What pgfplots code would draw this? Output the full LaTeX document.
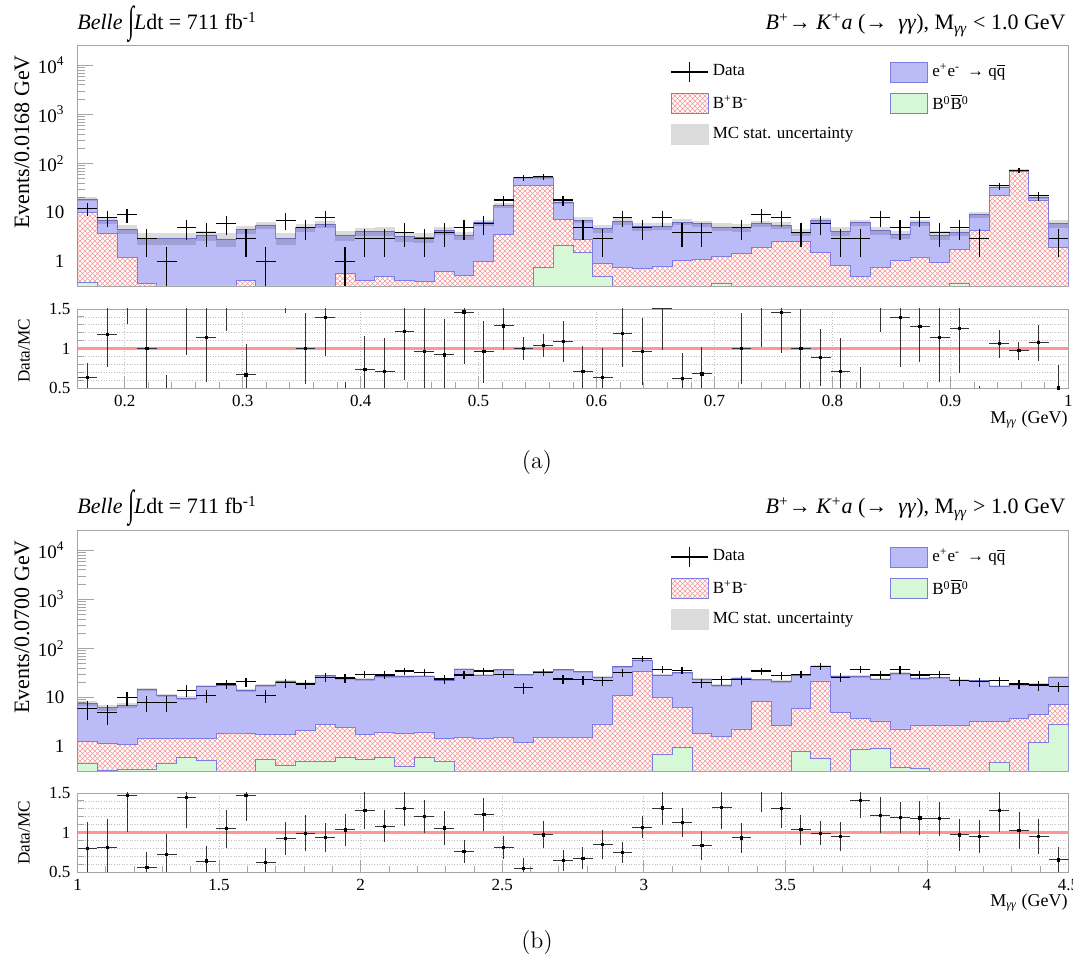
\documentclass[border=0pt]{standalone}
\usepackage{pgfplots}
\pgfplotsset{compat=1.18}
\usepackage{pgfplotstable}
\usetikzlibrary{patterns}
\usepackage{graphicx}
\usepackage{fontspec}
\newfontfamily\tms{Liberation Serif}

\definecolor{qqblue}{RGB}{187,187,248}
\definecolor{qqedge}{RGB}{125,125,225}
\definecolor{hatchred}{RGB}{250,150,150}
\definecolor{bzgreen}{RGB}{214,248,214}
\definecolor{framegray}{RGB}{165,165,165}
\definecolor{ratiored}{RGB}{255,150,150}

\pgfdeclarepatternformonly{finecross}{\pgfqpoint{-0.5pt}{-0.5pt}}{\pgfqpoint{3pt}{3pt}}{\pgfqpoint{2.5pt}{2.5pt}}{%
  \pgfsetlinewidth{0.25pt}%
  \pgfpathmoveto{\pgfqpoint{0pt}{0pt}}\pgfpathlineto{\pgfqpoint{2.5pt}{2.5pt}}%
  \pgfpathmoveto{\pgfqpoint{0pt}{2.5pt}}\pgfpathlineto{\pgfqpoint{2.5pt}{0pt}}%
  \pgfusepath{stroke}}

% panel (a): bin left edge, MC total, B+B- (+B0B0) top, B0B0 top, MC stat. error, data
\pgfplotstableread{
x tot red grn err data
0.1600 19 10 0.37 1.5 12
0.1768 6.8 3.75 0.01 0.9 8
0.1936 4.6 1.2 0.01 0.9 9
0.2104 3.0 0.36 0.01 0.8 3
0.2272 3.0 0.01 0.01 0.8 1
0.2440 3.0 0.01 0.01 0.8 5
0.2608 3.5 0.01 0.01 0.8 4
0.2776 2.9 0.01 0.01 0.9 6
0.2944 4.5 0.42 0.01 0.9 3
0.3112 5.6 0.01 0.01 0.9 1
0.3280 3.0 0.01 0.01 0.8 7
0.3448 5.0 0.01 0.01 0.9 5
0.3616 5.75 0.01 0.01 0.9 8
0.3784 3.5 0.58 0.01 0.8 1
0.3952 4.1 0.42 0.01 0.8 3
0.4120 4.2 0.51 0.01 0.8 3
0.4288 3.3 0.41 0.01 0.8 4
0.4456 3.1 0.40 0.01 0.7 3
0.4624 4.35 0.64 0.01 0.8 4
0.4792 3.42 0.52 0.01 0.7 5
0.4960 6.25 1.0 0.01 0.9 6
0.5128 14 3.6 0.01 1.4 18
0.5296 51 35.6 0.01 2.5 51
0.5464 52 35 0.76 2.5 54
0.5632 16.5 7.3 2.1 1.5 18
0.5800 7.0 2.9 1.55 1.0 5
0.5968 4.7 0.92 0.49 0.9 3
0.6136 6.7 0.76 0.01 1.0 8
0.6304 5.2 0.74 0.01 0.9 5
0.6472 5.3 0.82 0.01 0.9 8
0.6640 6.4 1.07 0.01 0.9 4
0.6808 5.9 1.13 0.01 0.9 4
0.6976 5.1 1.3 0.36 0.9 nan
0.7144 5.0 1.5 0.01 0.9 5
0.7312 5.9 1.96 0.01 0.9 9
0.7480 5.5 2.6 0.01 0.8 8
0.7648 4.0 2.6 0.01 0.7 4
0.7816 6.8 1.55 0.01 0.9 6
0.7984 4.2 0.85 0.01 0.8 3
0.8152 6.2 0.49 0.01 0.9 3
0.8320 4.3 0.76 0.01 0.8 8
0.8488 3.6 1.05 0.01 0.7 5
0.8656 6.25 1.2 0.01 0.9 8
0.8824 3.5 0.96 0.01 0.7 4
0.8992 4.0 1.8 0.36 0.7 5
0.9160 9.0 4.3 0.01 1.2 3
0.9328 33 22.8 0.01 2.0 35
0.9496 74 70 0.01 3.0 72
0.9664 20.5 18 0.01 1.5 22
0.9832 6.0 1.96 0.01 1.2 3
1.0000 6.0 1.96 0.01 1.2 nan
}\ta

% panel (b)
\pgfplotstableread{
x tot red grn err data
1.00 7.5 1.3 0.45 0.9 6
1.07 6.2 1.15 0.33 0.8 5
1.14 6.8 1.1 0.34 0.8 10
1.21 14.4 1.45 0.34 1.0 8
1.28 11 1.45 0.45 0.9 8
1.35 9.7 1.5 0.6 0.9 14
1.42 17.2 1.5 0.52 1.1 11
1.49 18.1 1.9 0.01 1.1 19
1.56 14.3 1.9 0.01 1.0 21
1.63 17.7 1.75 0.54 1.1 11
1.70 21.7 1.75 0.42 1.2 20
1.77 19.2 2.1 0.49 1.2 19
1.84 27.7 2.8 0.5 1.4 26
1.91 24.2 2.5 0.6 1.3 25
1.98 23.5 1.75 0.55 1.3 30
2.05 26.9 2.0 0.6 1.4 29
2.12 26.9 1.9 0.39 1.4 35
2.19 27.5 2.0 0.6 1.4 33
2.26 22.7 1.5 0.5 1.3 24
2.33 38.2 1.57 0.01 1.7 29
2.40 28.5 1.45 0.01 1.4 35
2.47 37 1.54 0.01 1.6 30
2.54 29.5 1.22 0.01 1.4 16
2.61 34 1.54 0.01 1.5 33
2.68 37 1.54 0.01 1.6 24
2.75 34 1.54 0.01 1.5 23
2.82 26 2.9 0.01 1.3 22
2.89 43 11 0.01 1.8 32
2.96 58 34.5 0.01 2.2 62
3.03 29 10 0.69 1.4 38
3.10 32 6.3 0.97 1.5 36
3.17 24 1.9 0.01 1.3 20
3.24 17.4 1.6 0.01 1.1 23
3.31 24.7 2.3 0.01 1.3 23
3.38 23 8.2 0.01 1.3 35
3.45 21.5 2.7 0.01 1.2 28
3.52 29 6.0 0.8 1.4 30
3.59 43.5 21.8 0.57 1.8 43
3.66 27.4 5.0 0.01 1.4 26
3.73 27 3.8 0.87 1.4 38
3.80 23.8 3.35 0.91 1.3 29
3.87 31 2.3 0.38 1.5 37
3.94 24.5 2.7 0.36 1.3 29
4.01 25.5 2.7 0.01 1.3 30
4.08 22.7 2.75 0.01 1.3 22
4.15 22 3.25 0.01 1.3 21
4.22 17.2 3.25 0.47 1.1 22
4.29 18.5 3.8 0.01 1.2 19
4.36 19 4.6 1.24 1.2 18
4.43 26 7.3 2.8 1.4 17
4.50 26 7.3 2.8 1.4 nan
}\tb

\newcommand{\stack}[2]{%
  \addplot[const plot, fill=qqblue, draw=qqedge, line width=0.4pt, forget plot] table[x=x, y=tot] {#1} \closedcycle;
  \addplot[const plot, preaction={fill=white}, pattern=finecross, pattern color=hatchred, draw=qqedge, line width=0.4pt, forget plot] table[x=x, y=red] {#1} \closedcycle;
  \addplot[const plot, fill=bzgreen, draw=qqedge, line width=0.4pt, forget plot] table[x=x, y=grn] {#1} \closedcycle;
  \addplot[draw=none, mark=none, forget plot,
    error bars/.cd, y dir=both, y explicit, error mark=none,
    error bar style={draw=black, opacity=0.14, line width=9.91pt}]
    table[x expr=\thisrow{x}+#2, y=tot, y error=err] {#1};
  \addplot[draw=none, mark=none, forget plot,
    error bars/.cd, x dir=both, x fixed=#2, y dir=both, y explicit, error mark=none,
    error bar style={draw=black, line width=0.6pt}]
    table[x expr=\thisrow{x}+#2, y=data,
      y error plus expr={sqrt(\thisrow{data})},
      y error minus expr={min(sqrt(\thisrow{data}),\thisrow{data}-0.02)}] {#1};
}

\newcommand{\legendset}{%
  \addlegendimage{legend image code/.code={\draw[black, line width=0.6pt] (0pt,0pt)--(18.5pt,0pt); \draw[black, line width=0.6pt] (9.25pt,-5pt)--(9.25pt,5pt);}}
  \addlegendentry{Data}
  \addlegendimage{legend image code/.code={\draw[fill=qqblue, draw=qqedge, line width=0.4pt] (0pt,-5pt) rectangle (18.5pt,5pt);}}
  \addlegendentry{e\textsuperscript{+}e\textsuperscript{-} \,→ q\(\overline{\mbox{q}}\)}
  \addlegendimage{legend image code/.code={\draw[preaction={fill=white}, pattern=finecross, pattern color=hatchred, draw=qqedge, line width=0.4pt] (0pt,-5pt) rectangle (18.5pt,5pt);}}
  \addlegendentry{B\textsuperscript{+}B\textsuperscript{-}}
  \addlegendimage{legend image code/.code={\draw[fill=bzgreen, draw=qqedge, line width=0.4pt] (0pt,-5pt) rectangle (18.5pt,5pt);}}
  \addlegendentry{B\textsuperscript{0}\(\overline{\mbox{B}}\)\textsuperscript{0}}
  \addlegendimage{legend image code/.code={\fill[black!14] (0pt,-5pt) rectangle (18.5pt,5pt);}}
  \addlegendentry{MC stat. uncertainty}
}

\newcommand{\ratiopts}[2]{%
  \addplot[only marks, mark=square*, mark size=0.55pt, black, forget plot,
    error bars/.cd, x dir=both, x fixed=#2, y dir=both, y explicit, error mark=none,
    error bar style={draw=black!80, line width=0.45pt}]
    table[x expr=\thisrow{x}+#2, y expr=\thisrow{data}/\thisrow{tot},
      y error expr={sqrt(\thisrow{data})/\thisrow{tot}}] {#1};
}

\begin{document}
\begin{tikzpicture}
\path[use as bounding box] (0pt,0pt) rectangle (536.5pt,480.5pt);

% ---------- (a) main ----------
\begin{axis}[scale only axis, anchor=south west, at={(38.75pt,337.5pt)},
    width=495.5pt, height=120.5pt,
    xmin=0.16, xmax=1.0, xtick={0.2,0.3,0.4,0.5,0.6,0.7,0.8,0.9,1}, xticklabels={}, minor x tick num=4,
    ymode=log, ymin=0.32, ymax=26000, log origin=infty,
    ytick={1,10,100,1000,10000},
    yticklabels={1,10,10\textsuperscript{2},10\textsuperscript{3},10\textsuperscript{4}},
    axis line style={framegray}, tick style={framegray, line width=0.4pt},
    tick pos=left, major tick length=8pt, minor tick length=4pt,
    tick label style={font=\tms\fontsize{9.5}{10}\selectfont},
    yticklabel style={xshift=-3pt},
    legend columns=2, legend cell align=left,
    legend style={draw=none, fill=none, at={(0.592,0.955)}, anchor=north west,
      font=\tms\fontsize{8.5}{10}\selectfont, row sep=3.5pt,
      /tikz/every even column/.append style={column sep=16.5pt}}]
  \legendset
  \stack{\ta}{0.0084}
\end{axis}

% ---------- (a) ratio ----------
\begin{axis}[scale only axis, anchor=south west, at={(38.75pt,286.5pt)},
    width=495.5pt, height=39.5pt,
    xmin=0.16, xmax=1.0, xtick={0.2,0.3,0.4,0.5,0.6,0.7,0.8,0.9,1}, minor x tick num=4,
    ymin=0.5, ymax=1.5, ytick={0.5,1,1.5}, minor y tick num=4,
    axis line style={framegray}, tick style={framegray, line width=0.4pt},
    tick pos=left, major tick length=6pt, minor tick length=3pt,
    xmajorgrids, ymajorgrids, yminorgrids,
    grid style={densely dotted, gray!50, line width=0.3pt},
    minor grid style={densely dotted, gray!50, line width=0.3pt},
    tick label style={font=\tms\fontsize{8.5}{10}\selectfont},
    /pgf/number format/assume math mode=true]
  \addplot[ratiored, line width=1.1pt, forget plot] coordinates {(0.16,1) (1,1)};
  \ratiopts{\ta}{0.0084}
\end{axis}

% ---------- (b) main ----------
\begin{axis}[scale only axis, anchor=south west, at={(38.75pt,95pt)},
    width=495.5pt, height=120.5pt,
    xmin=1.0, xmax=4.5, xtick={1,1.5,2,2.5,3,3.5,4,4.5}, xticklabels={}, minor x tick num=4,
    ymode=log, ymin=0.32, ymax=26000, log origin=infty,
    ytick={1,10,100,1000,10000},
    yticklabels={1,10,10\textsuperscript{2},10\textsuperscript{3},10\textsuperscript{4}},
    axis line style={framegray}, tick style={framegray, line width=0.4pt},
    tick pos=left, major tick length=8pt, minor tick length=4pt,
    tick label style={font=\tms\fontsize{9.5}{10}\selectfont},
    yticklabel style={xshift=-3pt},
    legend columns=2, legend cell align=left,
    legend style={draw=none, fill=none, at={(0.592,0.955)}, anchor=north west,
      font=\tms\fontsize{8.5}{10}\selectfont, row sep=3.5pt,
      /tikz/every even column/.append style={column sep=16.5pt}}]
  \legendset
  \stack{\tb}{0.035}
\end{axis}

% ---------- (b) ratio ----------
\begin{axis}[scale only axis, anchor=south west, at={(38.75pt,44.5pt)},
    width=495.5pt, height=39.5pt,
    xmin=1.0, xmax=4.5, xtick={1,1.5,2,2.5,3,3.5,4,4.5}, minor x tick num=4,
    ymin=0.5, ymax=1.5, ytick={0.5,1,1.5}, minor y tick num=4,
    axis line style={framegray}, tick style={framegray, line width=0.4pt},
    tick pos=left, major tick length=6pt, minor tick length=3pt,
    xmajorgrids, ymajorgrids, yminorgrids,
    grid style={densely dotted, gray!50, line width=0.3pt},
    minor grid style={densely dotted, gray!50, line width=0.3pt},
    tick label style={font=\tms\fontsize{8.5}{10}\selectfont},
    /pgf/number format/assume math mode=true]
  \addplot[ratiored, line width=1.1pt, forget plot] coordinates {(1,1) (4.5,1)};
  \ratiopts{\tb}{0.035}
\end{axis}

% ---------- texts ----------
\begin{scope}[every node/.style={inner sep=0pt}]
\node[anchor=base west, font=\tms\fontsize{11}{12}\selectfont] at (38.5pt,465.5pt)
  {\textit{Belle} \raisebox{-0.25ex}{\scalebox{1}[1.7]{∫}}\textit{L}dt = 711 fb\textsuperscript{-1}};
\node[anchor=base east, font=\tms\fontsize{11}{12}\selectfont] at (533pt,465.5pt)
  {\textit{B}\textsuperscript{+}→ \textit{K}\textsuperscript{+}\textit{a} (→~ \textit{γγ}), M\textsubscript{\textit{γγ}} < 1.0 GeV};
\node[anchor=base west, font=\tms\fontsize{11}{12}\selectfont] at (38.5pt,223.5pt)
  {\textit{Belle} \raisebox{-0.25ex}{\scalebox{1}[1.7]{∫}}\textit{L}dt = 711 fb\textsuperscript{-1}};
\node[anchor=base east, font=\tms\fontsize{11}{12}\selectfont] at (533pt,223.5pt)
  {\textit{B}\textsuperscript{+}→ \textit{K}\textsuperscript{+}\textit{a} (→~ \textit{γγ}), M\textsubscript{\textit{γγ}} > 1.0 GeV};

\node[rotate=90, font=\tms\fontsize{11}{12}\selectfont] at (11pt,409.5pt) {Events/0.0168 GeV};
\node[rotate=90, font=\tms\fontsize{11}{12}\selectfont] at (11pt,167pt) {Events/0.0700 GeV};
\node[rotate=90, font=\tms\fontsize{8.6}{10}\selectfont] at (12pt,305pt) {Data/MC};
\node[rotate=90, font=\tms\fontsize{8.6}{10}\selectfont] at (12pt,64pt) {Data/MC};

\node[anchor=base east, font=\tms\fontsize{9}{10}\selectfont] at (534pt,268.5pt) {M\textsubscript{\textit{γγ}} (GeV)};
\node[anchor=base east, font=\tms\fontsize{9}{10}\selectfont] at (534pt,27pt) {M\textsubscript{\textit{γγ}} (GeV)};

\node[font=\fontsize{12}{14}\selectfont] at (268.5pt,249pt) {(a)};
\node[font=\fontsize{12}{14}\selectfont] at (268.5pt,9pt) {(b)};
\end{scope}
\end{tikzpicture}
\end{document}
